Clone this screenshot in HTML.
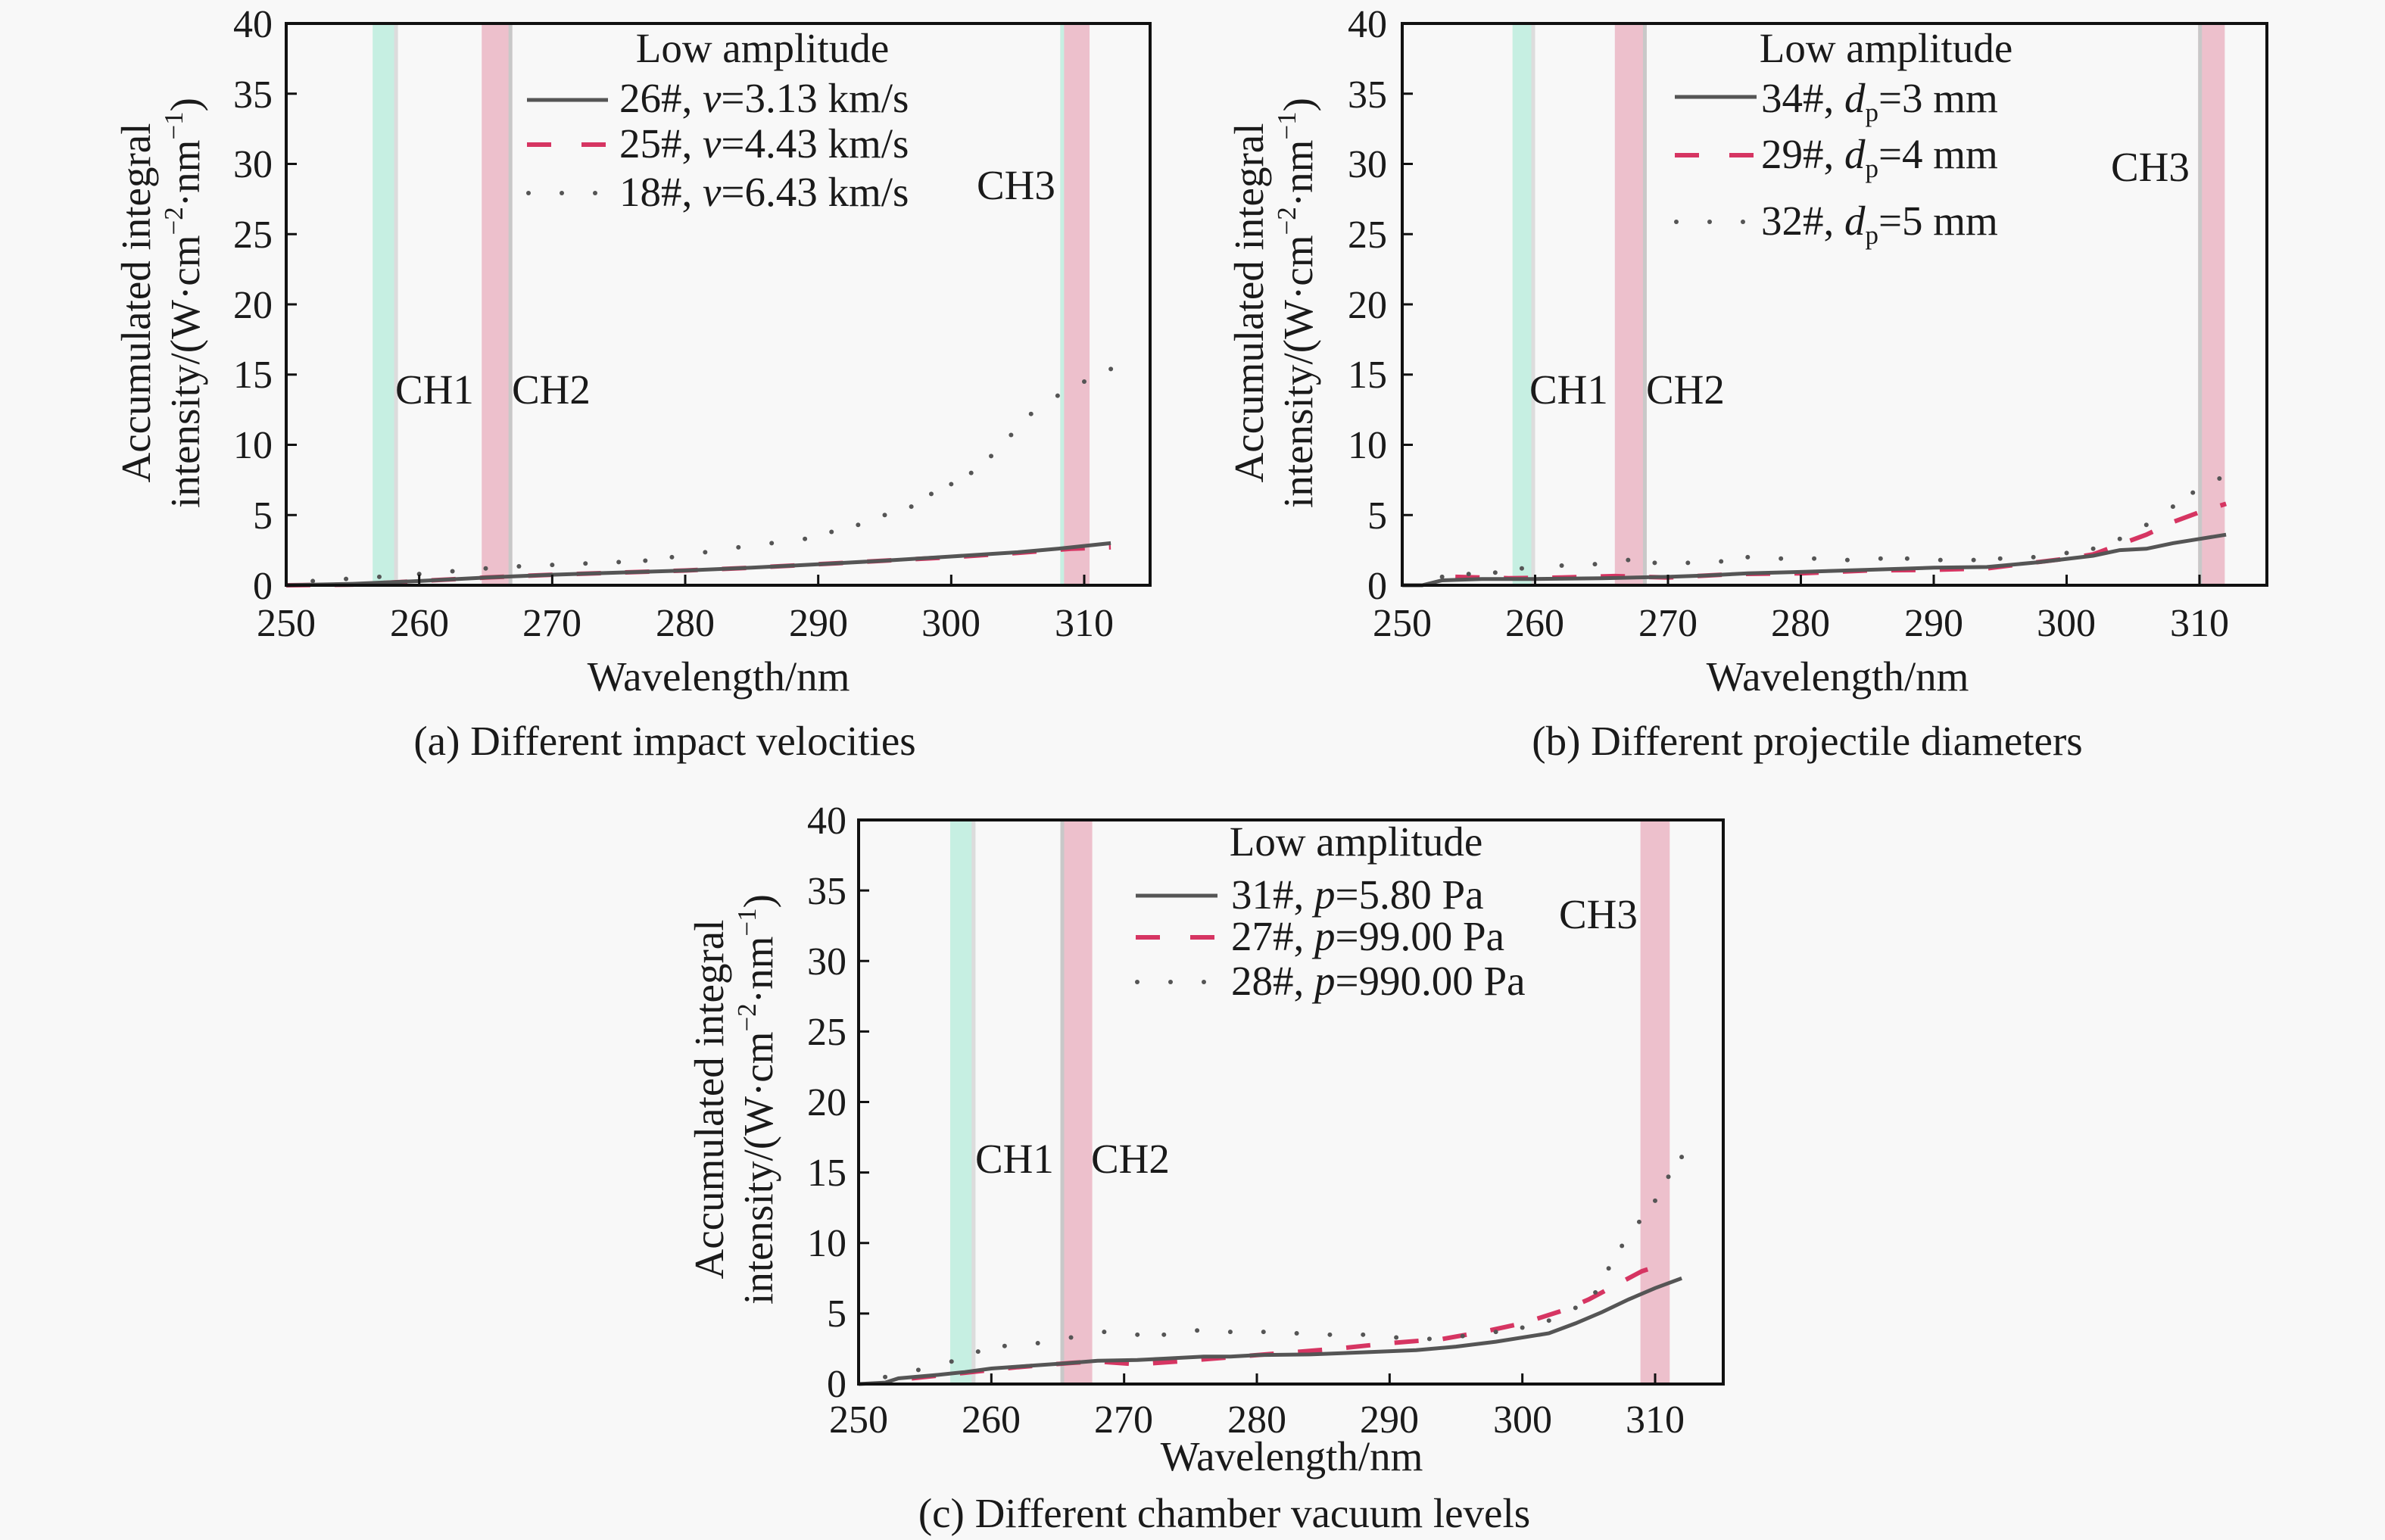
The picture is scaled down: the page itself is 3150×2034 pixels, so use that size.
<!DOCTYPE html>
<html><head><meta charset="utf-8"><style>
html,body{margin:0;padding:0;background:#f8f8f8;}
svg{display:block;font-family:"Liberation Serif",serif;}
text{fill:#1a1a1a;}
</style></head><body>
<svg id="s" width="3150" height="2034" viewBox="0 0 3150 2034" xmlns="http://www.w3.org/2000/svg">
<rect width="3150" height="2034" fill="#f8f8f8"/>
<g id="bands"></g>
<g id="curves"></g>
<g id="frames"></g>

<!-- Panel a texts -->
<g font-size="55">
<text x="1007" y="82" text-anchor="middle">Low amplitude</text>
<text x="818" y="148">26#, <tspan font-style="italic">v</tspan>=3.13 km/s</text>
<text x="818" y="208">25#, <tspan font-style="italic">v</tspan>=4.43 km/s</text>
<text x="818" y="272">18#, <tspan font-style="italic">v</tspan>=6.43 km/s</text>
<text x="522" y="533">CH1</text>
<text x="676" y="533">CH2</text>
<text x="1290" y="263">CH3</text>
<text x="949" y="912" text-anchor="middle">Wavelength/nm</text>
<text x="878" y="997" text-anchor="middle">(a) Different impact velocities</text>
<text transform="translate(198,400) rotate(-90)" text-anchor="middle">Accumulated integral</text>
<text transform="translate(263,400) rotate(-90)" text-anchor="middle">intensity/(W·cm<tspan font-size="35" dy="-22">−2</tspan><tspan dy="22">·nm</tspan><tspan font-size="35" dy="-22">−1</tspan><tspan dy="22">)</tspan></text>
</g>

<!-- Panel b texts -->
<g font-size="55">
<text x="2491" y="82" text-anchor="middle">Low amplitude</text>
<text x="2326" y="148">34#, <tspan font-style="italic">d</tspan><tspan font-size="35" dy="12">p</tspan><tspan dy="-12">=3 mm</tspan></text>
<text x="2326" y="222">29#, <tspan font-style="italic">d</tspan><tspan font-size="35" dy="12">p</tspan><tspan dy="-12">=4 mm</tspan></text>
<text x="2326" y="310">32#, <tspan font-style="italic">d</tspan><tspan font-size="35" dy="12">p</tspan><tspan dy="-12">=5 mm</tspan></text>
<text x="2020" y="533">CH1</text>
<text x="2174" y="533">CH2</text>
<text x="2788" y="239">CH3</text>
<text x="2427" y="912" text-anchor="middle">Wavelength/nm</text>
<text x="2387" y="997" text-anchor="middle">(b) Different projectile diameters</text>
<text transform="translate(1668,400) rotate(-90)" text-anchor="middle">Accumulated integral</text>
<text transform="translate(1733,400) rotate(-90)" text-anchor="middle">intensity/(W·cm<tspan font-size="35" dy="-22">−2</tspan><tspan dy="22">·nm</tspan><tspan font-size="35" dy="-22">−1</tspan><tspan dy="22">)</tspan></text>
</g>

<!-- Panel c texts -->
<g font-size="55">
<text x="1791" y="1130" text-anchor="middle">Low amplitude</text>
<text x="1626" y="1200">31#, <tspan font-style="italic">p</tspan>=5.80 Pa</text>
<text x="1626" y="1255">27#, <tspan font-style="italic">p</tspan>=99.00 Pa</text>
<text x="1626" y="1314">28#, <tspan font-style="italic">p</tspan>=990.00 Pa</text>
<text x="1288" y="1549">CH1</text>
<text x="1441" y="1549">CH2</text>
<text x="2059" y="1226">CH3</text>
<text x="1706" y="1942" text-anchor="middle">Wavelength/nm</text>
<text x="1617" y="2017" text-anchor="middle">(c) Different chamber vacuum levels</text>
<text transform="translate(955,1452) rotate(-90)" text-anchor="middle">Accumulated integral</text>
<text transform="translate(1020,1452) rotate(-90)" text-anchor="middle">intensity/(W·cm<tspan font-size="35" dy="-22">−2</tspan><tspan dy="22">·nm</tspan><tspan font-size="35" dy="-22">−1</tspan><tspan dy="22">)</tspan></text>
</g>

<!-- tick labels a -->
<g font-size="52" text-anchor="end">
<text x="360" y="49">40</text><text x="360" y="142">35</text><text x="360" y="234">30</text><text x="360" y="327">25</text><text x="360" y="420">20</text><text x="360" y="512">15</text><text x="360" y="605">10</text><text x="360" y="698">5</text><text x="360" y="791">0</text>
</g>
<g font-size="52" text-anchor="middle">
<text x="378" y="840">250</text><text x="554" y="840">260</text><text x="729" y="840">270</text><text x="905" y="840">280</text><text x="1081" y="840">290</text><text x="1256" y="840">300</text><text x="1432" y="840">310</text>
</g>
<!-- tick labels b -->
<g font-size="52" text-anchor="end">
<text x="1832" y="49">40</text><text x="1832" y="142">35</text><text x="1832" y="234">30</text><text x="1832" y="327">25</text><text x="1832" y="420">20</text><text x="1832" y="512">15</text><text x="1832" y="605">10</text><text x="1832" y="698">5</text><text x="1832" y="791">0</text>
</g>
<g font-size="52" text-anchor="middle">
<text x="1852" y="840">250</text><text x="2027" y="840">260</text><text x="2203" y="840">270</text><text x="2378" y="840">280</text><text x="2554" y="840">290</text><text x="2729" y="840">300</text><text x="2905" y="840">310</text>
</g>
<!-- tick labels c -->
<g font-size="52" text-anchor="end">
<text x="1118" y="1101">40</text><text x="1118" y="1194">35</text><text x="1118" y="1287">30</text><text x="1118" y="1380">25</text><text x="1118" y="1473">20</text><text x="1118" y="1566">15</text><text x="1118" y="1659">10</text><text x="1118" y="1752">5</text><text x="1118" y="1845">0</text>
</g>
<g font-size="52" text-anchor="middle">
<text x="1134" y="1892">250</text><text x="1309" y="1892">260</text><text x="1484" y="1892">270</text><text x="1660" y="1892">280</text><text x="1835" y="1892">290</text><text x="2011" y="1892">300</text><text x="2186" y="1892">310</text>
</g>

<!-- legend lines -->
<g>
<line x1="696" y1="132" x2="803" y2="132" stroke="#555" stroke-width="5"/>
<line x1="696" y1="191" x2="803" y2="191" stroke="#d63562" stroke-width="6" stroke-dasharray="32,40"/>
<g fill="#555"><circle cx="698" cy="255" r="3"/><circle cx="742" cy="255" r="3"/><circle cx="786" cy="255" r="3"/></g>

<line x1="2212" y1="128" x2="2320" y2="128" stroke="#555" stroke-width="5"/>
<line x1="2212" y1="205" x2="2320" y2="205" stroke="#d63562" stroke-width="6" stroke-dasharray="32,40"/>
<g fill="#555"><circle cx="2214" cy="293" r="3"/><circle cx="2258" cy="293" r="3"/><circle cx="2302" cy="293" r="3"/></g>

<line x1="1500" y1="1183" x2="1608" y2="1183" stroke="#555" stroke-width="5"/>
<line x1="1500" y1="1238" x2="1608" y2="1238" stroke="#d63562" stroke-width="6" stroke-dasharray="32,40"/>
<g fill="#555"><circle cx="1502" cy="1297" r="3"/><circle cx="1546" cy="1297" r="3"/><circle cx="1590" cy="1297" r="3"/></g>
</g>
</svg>
<script>
var NS="http://www.w3.org/2000/svg";
function el(p,t,a){var e=document.createElementNS(NS,t);for(var k in a)e.setAttribute(k,a[k]);document.getElementById(p).appendChild(e);return e;}
var P=[
 {L:378,R:1519,T:31,B:773,x250:378,x310:1432,
  bands:[[256.5,258.4,'#c6efe2','#dcdcdc','r'],[264.7,267.0,'#edc0cc','#c8c8c8','r'],[308.2,310.4,'#edc0cc','#c6efe2','l']],
  s:[[250,0],[255,0.1],[260,0.3],[265,0.55],[270,0.75],[275,0.9],[280,1.05],[285,1.25],[290,1.5],[295,1.75],[300,2.05],[305,2.35],[308,2.6],[312,3.0]],
  d:[[250,0],[255,0.05],[260,0.3],[265,0.55],[270,0.75],[275,0.9],[280,1.05],[285,1.25],[290,1.5],[295,1.75],[300,2.0],[305,2.3],[309,2.6],[312,2.7]],
  o:[[252,0.3],[254.5,0.45],[257,0.6],[260,0.8],[262.5,1.0],[265,1.2],[267.5,1.35],[270,1.45],[272.5,1.55],[275,1.65],[277,1.75],[279,2.0],[281.5,2.35],[284,2.7],[286.5,3.0],[289,3.3],[291,3.8],[293,4.3],[295,5.0],[297,5.6],[298.5,6.5],[300,7.2],[301.5,8.0],[303,9.2],[304.5,10.7],[306,12.2],[308,13.5],[310,14.5],[312,15.4]]},
 {L:1852,R:2994,T:31,B:773,x250:1852,x310:2905,
  bands:[[258.3,260.0,'#c6efe2','#dcdcdc','r'],[266.0,268.4,'#edc0cc','#c8c8c8','r'],[309.9,311.9,'#edc0cc','#c8c8c8','l']],
  s:[[250,0],[251.5,0],[253,0.35],[256,0.45],[260,0.45],[265,0.5],[270,0.6],[273,0.7],[276,0.85],[280,0.95],[285,1.1],[290,1.25],[294,1.3],[298,1.65],[302,2.1],[304,2.5],[306,2.6],[308,3.0],[310,3.3],[312,3.6]],
  d:[[254,0.6],[258,0.5],[262,0.55],[266,0.65],[270,0.55],[275,0.8],[280,0.85],[285,1.05],[290,1.1],[294,1.2],[297,1.55],[300,1.9],[302,2.2],[304,2.9],[306,3.6],[308,4.5],[310,5.2],[312,5.8]],
  o:[[253,0.6],[255,0.8],[257,0.9],[259,1.2],[262,1.4],[264.5,1.5],[267,1.8],[269,1.6],[271.5,1.6],[274,1.7],[276,2.0],[278.5,1.9],[281,1.9],[283.5,1.8],[286,1.9],[288,1.9],[290.5,1.8],[293,1.8],[295,1.9],[297.5,2.0],[300,2.3],[302,2.6],[304,3.3],[306,4.3],[308,5.6],[309.5,6.6],[311.5,7.6]]},
 {L:1134,R:2276,T:1083,B:1828,x250:1134,x310:2186,
  bands:[[256.9,258.8,'#c6efe2','#dcdcdc','r'],[265.2,267.6,'#edc0cc','#c8c8c8','l'],[308.9,311.1,'#edc0cc','#edc0cc','l']],
  s:[[250,0],[252,0.1],[253,0.4],[256,0.65],[258,0.85],[260,1.1],[263,1.3],[266,1.5],[268,1.65],[271,1.7],[273,1.8],[276,1.95],[278,1.95],[280,2.05],[284,2.1],[288,2.25],[292,2.4],[295,2.65],[298,3.0],[302,3.6],[304,4.3],[306,5.1],[308,6.0],[310,6.8],[312,7.5]],
  d:[[254,0.4],[258,0.8],[262,1.2],[266,1.5],[268,1.6],[271,1.4],[274,1.6],[278,1.9],[282,2.2],[286,2.5],[290,2.9],[294,3.2],[297,3.7],[300,4.3],[303,5.2],[305,6.0],[307,7.0],[309,8.0],[311,8.6]],
  o:[[252,0.5],[254.5,1.0],[257,1.6],[259,2.3],[261,2.7],[263.5,2.9],[266,3.3],[268.5,3.7],[271,3.5],[273,3.5],[275.5,3.8],[278,3.7],[280.5,3.7],[283,3.6],[285.5,3.5],[288,3.5],[290.5,3.3],[293,3.2],[295.5,3.4],[298,3.7],[300,4.0],[302,4.5],[304,5.4],[305.5,6.5],[306.5,8.2],[307.5,9.8],[308.8,11.5],[310,13.0],[311,14.7],[312,16.1]]}
];
P.forEach(function(p){
 var kx=(p.x310-p.x250)/60, ky=(p.B-p.T)/40;
 function X(w){return p.x250+(w-250)*kx;} function Y(v){return p.B-v*ky;}
 p.bands.forEach(function(b){
  var x1=X(b[0]),x2=X(b[1]);
  el('bands','rect',{x:x1,y:p.T,width:x2-x1,height:p.B-p.T,fill:b[2]});
  var ex=b[4]=='r'?x2-5:x1;
  el('bands','rect',{x:ex,y:p.T,width:5,height:p.B-p.T,fill:b[3]});
 });
 function path(a){return a.map(function(q,i){return (i?'L':'M')+X(q[0]).toFixed(1)+' '+Y(q[1]).toFixed(1);}).join(' ');}
 el('curves','path',{d:path(p.d),fill:'none',stroke:'#d63562','stroke-width':6,'stroke-dasharray':'32,32'});
 el('curves','path',{d:path(p.s),fill:'none',stroke:'#555','stroke-width':5});
 p.o.forEach(function(q){el('curves','circle',{cx:X(q[0]),cy:Y(q[1]),r:3,fill:'#555'});});
 el('frames','rect',{x:p.L,y:p.T,width:p.R-p.L,height:p.B-p.T,fill:'none',stroke:'#111','stroke-width':4});
 for(var v=5;v<40;v+=5)el('frames','line',{x1:p.L,x2:p.L+14,y1:Y(v),y2:Y(v),stroke:'#111','stroke-width':3});
 for(var w=260;w<=310;w+=10)el('frames','line',{x1:X(w),x2:X(w),y1:p.B,y2:p.B-14,stroke:'#111','stroke-width':3});
});
</script>
</body></html>
